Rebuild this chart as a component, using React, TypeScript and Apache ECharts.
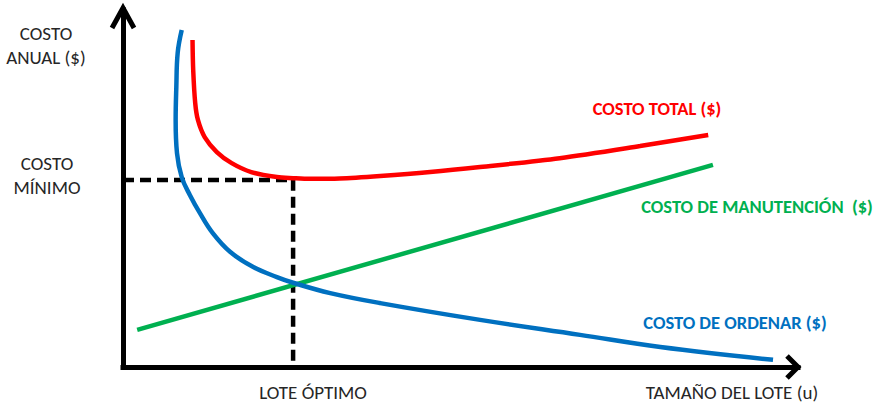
import React, { useEffect, useRef } from "react";
import * as echarts from "echarts";

// Lot size (x, 0-100) vs annual cost (y, 0-100)
const orderingCost: [number, number][] = [
  [8.7, 94.4], [8.1, 88.0], [7.9, 78.4], [7.8, 69.2], [8.0, 59.9], [8.7, 53.2],
  [9.9, 48.2], [11.4, 43.1], [13.3, 37.5], [15.9, 32.2], [19.3, 28.0], [22.8, 25.2],
  [25.2, 23.6], [30.7, 20.7], [38.1, 17.9], [52.9, 13.2], [67.7, 9.0], [79.6, 5.6],
  [96.3, 2.0],
];
const totalCost: [number, number][] = [
  [10.3, 91.6], [10.4, 83.2], [10.7, 73.9], [11.1, 69.2], [12.1, 64.4], [13.9, 60.2],
  [16.1, 57.1], [19.0, 54.6], [22.8, 53.2], [25.2, 52.9], [27.7, 52.7], [32.1, 52.8],
  [38.1, 53.5], [45.5, 54.6], [52.9, 56.0], [64.7, 58.5], [76.6, 61.9], [86.7, 65.0],
];
const holdingCost: [number, number][] = [
  [2.1, 10.4], [87.4, 56.6],
];
const optimalLot = 25.2;
const minimumCost = 52.4;
const guide: [number, number][] = [
  [0, minimumCost], [optimalLot, minimumCost], [optimalLot, 0],
];

const FONT = "Calibri, Carlito, Lato, 'Open Sans', sans-serif";
const RED = "#FF0000";
const BLUE = "#0070C0";
const GREEN = "#00B050";

export default function App() {
  const ref = useRef<HTMLDivElement>(null);
  useEffect(() => {
    document.body.style.margin = "0";
    document.body.style.overflow = "hidden";
    if (!ref.current) return;
    const chart = echarts.init(ref.current, null, { renderer: "svg" });
    const txt = (x: number, y: number, text: string, color: string, bold: boolean) => ({
      type: "text",
      x,
      y,
      style: {
        text,
        fill: color,
        fontSize: bold ? 18.5 : 19,
        fontWeight: bold ? "bold" : "normal",
        fontFamily: FONT,
        align: "center",
        verticalAlign: "middle",
        lineHeight: 24,
      },
    });
    chart.setOption({
      animation: false,
      backgroundColor: "#ffffff",
      grid: { left: 123, top: 10, width: 675, height: 357 },
      xAxis: {
        type: "value",
        min: 0,
        max: 100,
        axisLine: { show: true, onZero: false, lineStyle: { color: "#000", width: 5, cap: "square" } },
        axisTick: { show: false },
        axisLabel: { show: false },
        splitLine: { show: false },
      },
      yAxis: {
        type: "value",
        min: 0,
        max: 100,
        axisLine: { show: true, onZero: false, lineStyle: { color: "#000", width: 5, cap: "square" } },
        axisTick: { show: false },
        axisLabel: { show: false },
        splitLine: { show: false },
      },
      series: [
        {
          type: "line",
          data: guide,
          symbol: "none",
          z: 1,
          lineStyle: { color: "#000", width: 4.5, type: [11, 6] },
        },
        {
          type: "line",
          data: holdingCost,
          symbol: "none",
          z: 2,
          lineStyle: { color: GREEN, width: 4.5 },
        },
        {
          type: "line",
          data: orderingCost,
          symbol: "none",
          smooth: 0.4,
          z: 3,
          lineStyle: { color: BLUE, width: 4.5 },
        },
        {
          type: "line",
          data: totalCost,
          symbol: "none",
          smooth: 0.3,
          z: 3,
          lineStyle: { color: RED, width: 4.5 },
        },
      ],
      graphic: [
        {
          type: "polyline",
          shape: { points: [[112, 28], [123, 8], [134, 28]] },
          style: { stroke: "#000", lineWidth: 5, fill: null, lineJoin: "miter" },
        },
        {
          type: "polyline",
          shape: { points: [[787, 356], [798, 367], [787, 378]] },
          style: { stroke: "#000", lineWidth: 5, fill: null, lineJoin: "miter" },
        },
        txt(46, 45, "COSTO\nANUAL ($)", "#262626", false),
        txt(47, 175, "COSTO\nMÍNIMO", "#262626", false),
        txt(313, 392, "LOTE ÓPTIMO", "#262626", false),
        txt(732, 392, "TAMAÑO DEL LOTE (u)", "#262626", false),
        txt(657, 108, "COSTO TOTAL ($)", RED, true),
        txt(757, 206, "COSTO DE MANUTENCIÓN  ($)", GREEN, true),
        txt(735, 322, "COSTO DE ORDENAR ($)", BLUE, true),
      ],
    });
    return () => chart.dispose();
  }, []);
  return <div ref={ref} style={{ width: 881, height: 403 }} />;
}
